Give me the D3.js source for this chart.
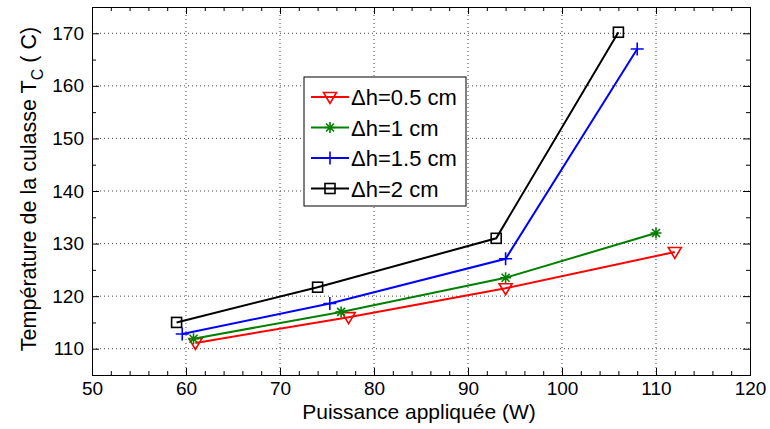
<!DOCTYPE html>
<html>
<head>
<meta charset="utf-8">
<script src="https://cdn.jsdelivr.net/npm/d3@7"></script>
<style>
  body { margin: 0; background: #fff; }
  text { font-family: "Liberation Sans", Arial, sans-serif; }
</style>
</head>
<body>
<div id="wrapper"></div>
<script>
// data
const seriesNames = ["\u0394h=0.5 cm", "\u0394h=1 cm", "\u0394h=1.5 cm", "\u0394h=2 cm"]
const power05 = [61, 77.3, 94, 112]
const temp05 = [111.1, 116.0, 121.5, 128.4]
const power1 = [60.8, 76.5, 94, 110]
const temp1 = [111.9, 117.0, 123.5, 132.0]
const power15 = [59.6, 75.3, 94, 108]
const temp15 = [112.8, 118.6, 127.1, 167.0]
const power2 = [59, 74, 93, 106]
const temp2 = [115.0, 121.7, 131.0, 170.2]
const xTicks = [50, 60, 70, 80, 90, 100, 110, 120]
const yTicks = [110, 120, 130, 140, 150, 160, 170]

const colors = ["#ff0000", "#008000", "#0000ff", "#000000"]
const markers = ["tri", "star", "plus", "square"]

const width = 770, height = 429
const plot = {left: 92, right: 750, top: 7, bottom: 375}

const svg = d3.select("#wrapper").append("svg")
    .attr("width", width)
    .attr("height", height)

const x = d3.scaleLinear().domain([50, 120]).range([plot.left, plot.right])
const y = d3.scaleLinear().domain([105, 175]).range([plot.bottom, plot.top])

// grid
svg.append("g").selectAll("line")
    .data(xTicks.slice(1, -1))
    .enter().append("line")
    .attr("x1", d => x(d)).attr("x2", d => x(d))
    .attr("y1", plot.top).attr("y2", plot.bottom)
    .attr("stroke", "#444").attr("stroke-width", 1)
    .attr("stroke-dasharray", "1,3")
svg.append("g").selectAll("line")
    .data(yTicks)
    .enter().append("line")
    .attr("y1", d => y(d)).attr("y2", d => y(d))
    .attr("x1", plot.left).attr("x2", plot.right)
    .attr("stroke", "#444").attr("stroke-width", 1)
    .attr("stroke-dasharray", "1,3")

// axes (ticks pointing inside, box style)
const xMinor = d3.range(52, 120, 2).filter(d => d % 10 != 0)
const yMinor = d3.range(105, 176, 5).filter(d => d % 10 != 0)

const bottomAxis = d3.axisBottom(x).tickValues(xTicks).tickSize(-7).tickFormat(d3.format("d"))
const gb = svg.append("g").attr("transform", `translate(0,${plot.bottom})`).call(bottomAxis)
gb.selectAll(".tick text").attr("dy", 0).attr("y", 20).attr("font-size", 19)
svg.append("g").attr("transform", `translate(0,${plot.bottom})`)
    .call(d3.axisBottom(x).tickValues(xMinor).tickSize(-4).tickFormat(""))
svg.append("g").attr("transform", `translate(0,${plot.top})`)
    .call(d3.axisTop(x).tickValues(xTicks).tickSize(-7).tickFormat(""))
svg.append("g").attr("transform", `translate(0,${plot.top})`)
    .call(d3.axisTop(x).tickValues(xMinor).tickSize(-4).tickFormat(""))

const leftAxis = d3.axisLeft(y).tickValues(yTicks).tickSize(-7).tickFormat(d3.format("d"))
const gl = svg.append("g").attr("transform", `translate(${plot.left},0)`).call(leftAxis)
gl.selectAll(".tick text").attr("x", -8).attr("font-size", 19)
svg.append("g").attr("transform", `translate(${plot.left},0)`)
    .call(d3.axisLeft(y).tickValues(yMinor).tickSize(-4).tickFormat(""))
svg.append("g").attr("transform", `translate(${plot.right},0)`)
    .call(d3.axisRight(y).tickValues(yTicks).tickSize(-7).tickFormat(""))
svg.append("g").attr("transform", `translate(${plot.right},0)`)
    .call(d3.axisRight(y).tickValues(yMinor).tickSize(-4).tickFormat(""))

svg.selectAll(".domain").attr("stroke", "#000").attr("stroke-width", 1)
svg.selectAll(".tick line").attr("stroke", "#000")
svg.selectAll(".tick text").attr("fill", "#000")

// axis titles
svg.append("text")
    .attr("x", (plot.left + plot.right) / 2 - 2).attr("y", 419)
    .attr("text-anchor", "middle").attr("font-size", 21)
    .text("Puissance appliquée (W)")

const yt = svg.append("text")
    .attr("transform", `translate(36,${(plot.top + plot.bottom) / 2 - 2}) rotate(-90)`)
    .attr("text-anchor", "middle").attr("font-size", 21.5)
yt.append("tspan").text("Température de la culasse T")
yt.append("tspan").attr("dy", 7).attr("font-size", 16).text("C")
yt.append("tspan").attr("dy", -7).text(" ( C)")

// markers
function drawMarker(g, type, cx, cy, color) {
    if (type == "tri") {
        g.append("path")
            .attr("d", `M${cx - 6.5},${cy - 4.5} L${cx + 6.5},${cy - 4.5} L${cx},${cy + 6.5} Z`)
            .attr("fill", "none").attr("stroke", color).attr("stroke-width", 1.6)
    } else if (type == "star") {
        const r = 5.5
        g.append("path")
            .attr("d", `M${cx - r},${cy} L${cx + r},${cy} M${cx},${cy - r} L${cx},${cy + r} ` +
                `M${cx - 4},${cy - 4} L${cx + 4},${cy + 4} M${cx - 4},${cy + 4} L${cx + 4},${cy - 4}`)
            .attr("stroke", color).attr("stroke-width", 1.6)
    } else if (type == "plus") {
        const r = 6.5
        g.append("path")
            .attr("d", `M${cx - r},${cy} L${cx + r},${cy} M${cx},${cy - r} L${cx},${cy + r}`)
            .attr("stroke", color).attr("stroke-width", 1.6)
    } else {
        g.append("rect")
            .attr("x", cx - 5).attr("y", cy - 5).attr("width", 10).attr("height", 10)
            .attr("fill", "none").attr("stroke", color).attr("stroke-width", 1.6)
    }
}

const allX = [power05, power1, power15, power2]
const allY = [temp05, temp1, temp15, temp2]
const line = d3.line().x(d => x(d[0])).y(d => y(d[1]))

for (let i = 0; i < 4; i++) {
    const pts = allX[i].map((v, j) => [v, allY[i][j]])
    const g = svg.append("g")
    g.append("path").datum(pts)
        .attr("d", line)
        .attr("fill", "none")
        .attr("stroke", colors[i])
        .attr("stroke-width", 2)
    pts.forEach(p => drawMarker(g, markers[i], x(p[0]), y(p[1]), colors[i]))
}

// legend
const lg = svg.append("g").attr("transform", "translate(304,77)")
lg.append("rect").attr("width", 162).attr("height", 129)
    .attr("fill", "#fff").attr("stroke", "#000").attr("stroke-width", 1)
seriesNames.forEach(function(name, i) {
    const yy = 20 + i * 30.5
    lg.append("line").attr("x1", 7).attr("x2", 45).attr("y1", yy).attr("y2", yy)
        .attr("stroke", colors[i]).attr("stroke-width", 2)
    drawMarker(lg, markers[i], 26, yy, colors[i])
    lg.append("text").attr("x", 47).attr("y", yy + 8)
        .attr("font-size", 22).text(name)
})
</script>
</body>
</html>
